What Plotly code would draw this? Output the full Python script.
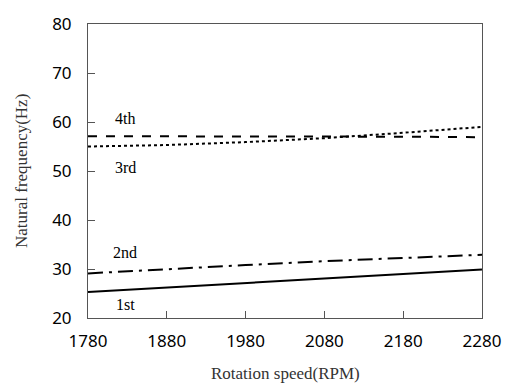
import plotly.graph_objects as go

rpm = [1780, 1880, 1980, 2080, 2180, 2280]
mode1 = [25.3, 26.2, 27.1, 28.0, 29.0, 29.9]
mode2 = [29.1, 30.0, 30.8, 31.6, 32.3, 32.9]
mode3 = [55.0, 55.3, 55.9, 56.7, 57.8, 59.0]
mode4 = [57.1, 57.1, 57.0, 57.0, 57.0, 56.9]
series = [("1st", mode1, "solid"), ("2nd", mode2, "longdashdot"),
          ("3rd", mode3, "dot"), ("4th", mode4, "dash")]
label_pos = {"4th": (1827, 60.8), "3rd": (1827, 50.8), "2nd": (1827, 33.3), "1st": (1827, 22.7)}
x_ticks = [1780, 1880, 1980, 2080, 2180, 2280]
y_ticks = [20, 30, 40, 50, 60, 70, 80]

fig = go.Figure()
for name, vals, dash in series:
    fig.add_trace(go.Scatter(x=rpm, y=vals, mode="lines", name=name,
                             line=dict(color="black", width=2, dash=dash)))
for name, (lx, ly) in label_pos.items():
    fig.add_annotation(x=lx, y=ly, text=name, showarrow=False,
                       font=dict(family="Liberation Serif", size=16, color="black"))

fig.add_annotation(xref="paper", yref="paper", x=0, y=0.5, xshift=-67, xanchor="center", yanchor="middle",
                   text="Natural frequency(Hz)", textangle=-90, showarrow=False,
                   font=dict(family="Liberation Serif", size=17, color="#333"))
fig.add_annotation(xref="paper", yref="paper", x=0.5, y=0, yshift=-55, xanchor="center", yanchor="middle",
                   text="Rotation speed(RPM)", showarrow=False,
                   font=dict(family="Liberation Serif", size=17, color="#333"))

axis_common = dict(showgrid=False, zeroline=False, showline=True, linecolor="#555", linewidth=1,
                   mirror=True, ticks="inside", ticklen=7, tickcolor="#555", ticklabeloverflow="allow",
                   tickfont=dict(family="Noto Sans", size=17, color="black"))
fig.update_xaxes(range=[1780, 2280], tickvals=x_ticks, ticklabelstandoff=8, **axis_common)
fig.update_yaxes(range=[20, 80], tickvals=y_ticks, ticklabelstandoff=12, **axis_common)
fig.update_layout(width=513, height=391, margin=dict(l=88, r=30, t=13, b=73),
                  plot_bgcolor="white", paper_bgcolor="white", showlegend=False)
fig.write_html("out.html")
